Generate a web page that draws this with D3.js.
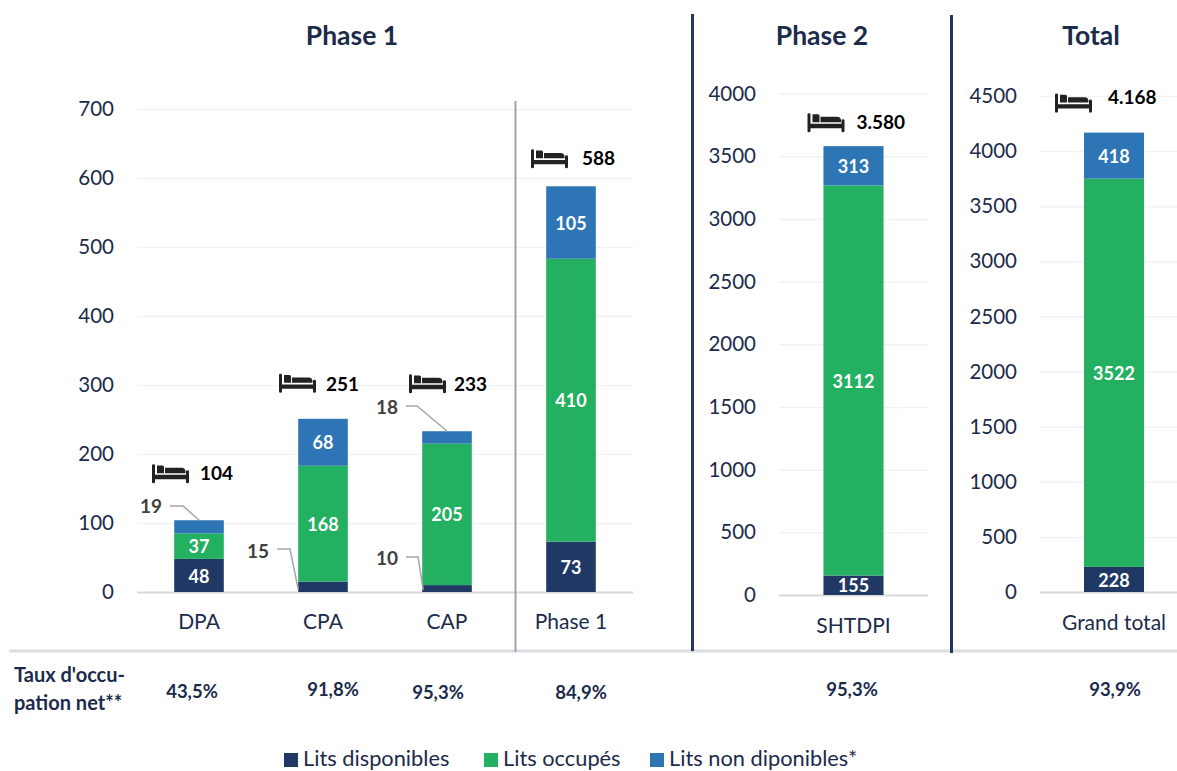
<!DOCTYPE html>
<html>
<head>
<meta charset="utf-8">
<script src="https://cdn.jsdelivr.net/npm/d3@7"></script>
<style>
  html, body { margin: 0; padding: 0; background: #fff; }
  text { font-family: Lato, "Open Sans", sans-serif; }
</style>
</head>
<body>
<svg width="1177" height="771"></svg>
<script>
// values
var seriesNames = ["Lits disponibles", "Lits occupés", "Lits non diponibles*"];
var seriesKeys = ["dispo", "occupes", "nonDispo"];

var phase1Categories = ["DPA", "CPA", "CAP", "Phase 1"];
var phase1Dispo = [48, 15, 10, 73];
var phase1Occupes = [37, 168, 205, 410];
var phase1NonDispo = [19, 68, 18, 105];
var phase1Totals = ["104", "251", "233", "588"];
var phase1Ticks = [0, 100, 200, 300, 400, 500, 600, 700];

var phase2Categories = ["SHTDPI"];
var phase2Dispo = [155];
var phase2Occupes = [3112];
var phase2NonDispo = [313];
var phase2Totals = ["3.580"];
var phase2Ticks = [0, 500, 1000, 1500, 2000, 2500, 3000, 3500, 4000];

var totalCategories = ["Grand total"];
var totalDispo = [228];
var totalOccupes = [3522];
var totalNonDispo = [418];
var totalTotals = ["4.168"];
var totalTicks = [0, 500, 1000, 1500, 2000, 2500, 3000, 3500, 4000, 4500];

var occupationLabels = ["43,5%", "91,8%", "95,3%", "84,9%", "95,3%", "93,9%"];

var colors = d3.scaleOrdinal().domain(seriesKeys).range(["#1f3864", "#23b060", "#2e75b6"]);
var textDark = "#1c2b4a";

var svg = d3.select("svg");

// one panel = one stacked bar chart with its own y scale
function drawPanel(cfg) {
    var rows = cfg.categories.map(function(c, i) {
        return { cat: c, dispo: cfg.dispo[i], occupes: cfg.occupes[i], nonDispo: cfg.nonDispo[i], total: cfg.totals[i] };
    });

    var x = d3.scaleBand().domain(cfg.categories).range(cfg.xRange)
        .paddingInner(cfg.inner).paddingOuter(cfg.outer);
    var y = d3.scaleLinear().domain(cfg.yDomain).range(cfg.yRange);
    var g = svg.append("g");

    var yAxis = g.append("g")
        .attr("transform", "translate(" + cfg.xRange[0] + ",0)")
        .call(d3.axisLeft(y).tickValues(cfg.ticks).tickFormat(d3.format("d"))
            .tickSize(-(cfg.xRange[1] - cfg.xRange[0])).tickPadding(23));
    yAxis.select(".domain").remove();
    yAxis.selectAll("line").attr("stroke", function(d) { return d === 0 ? "#d9d9d9" : "#f2f2f2"; })
        .attr("stroke-width", function(d) { return d === 0 ? 2 : 1.5; });
    yAxis.selectAll("text").attr("font-size", 20.5).attr("fill", textDark).style("font-family", "Lato");

    var stack = d3.stack().keys(seriesKeys)(rows);

    g.selectAll(".layer")
        .data(stack)
        .enter().append("g")
        .attr("class", "layer")
        .attr("fill", function(d) { return colors(d.key); })
        .selectAll("rect")
        .data(function(d) { return d; })
        .enter().append("rect")
        .attr("x", function(d) { return x(d.data.cat); })
        .attr("y", function(d) { return y(d[1]); })
        .attr("width", x.bandwidth())
        .attr("height", function(d) { return y(d[0]) - y(d[1]); });

    // value labels, the small segments are labelled outside through a leader
    stack.forEach(function(layer) {
        g.append("g").selectAll("text")
            .data(layer)
            .enter().append("text")
            .filter(function(d) { return y(d[0]) - y(d[1]) >= 15; })
            .attr("x", function(d) { return x(d.data.cat) + x.bandwidth() / 2; })
            .attr("y", function(d) { return (y(d[0]) + y(d[1])) / 2 + 0.6; })
            .attr("dy", "0.36em")
            .attr("text-anchor", "middle")
            .attr("font-size", 18)
            .attr("font-weight", 700)
            .attr("fill", "#fff")
            .text(function(d) { return d[1] - d[0]; });
    });

    var xAxis = g.append("g")
        .attr("transform", "translate(0," + y(0) + ")")
        .call(d3.axisBottom(x).tickSize(0).tickPadding(cfg.catPad));
    xAxis.select(".domain").remove();
    xAxis.selectAll("text").attr("font-size", 21).attr("fill", textDark).style("font-family", "Lato");

    // bed icon + total above each bar
    rows.forEach(function(r, i) {
        var cx = x(r.cat) + x.bandwidth() / 2;
        var top = y(r.dispo + r.occupes + r.nonDispo);
        var p = cfg.bedPlace[i];
        drawBed(g, cx + p.bedDx, top + p.bedDy);
        g.append("text")
            .attr("x", cx + p.labelDx)
            .attr("y", top + p.labelDy)
            .attr("dy", "0.36em")
            .attr("font-size", 19)
            .attr("font-weight", 700)
            .attr("fill", "#000")
            .text(r.total);
    });

    return { x: x, y: y, g: g };
}

function drawBed(g, left, top) {
    g.append("path")
        .attr("transform", "translate(" + left + "," + top + ")")
        .attr("fill", "#222")
        .attr("d", "M0,1.2 a1.5,1.2 0 0 1 3,0 V10.6 H34 V7.2 a1.5,1.2 0 0 1 3,0 V17.8 a1.5,1.2 0 0 1 -3,0 V15 H3 V17.8 a1.5,1.2 0 0 1 -3,0 Z" +
            "M5,1.2 h5.5 a1.5,1.5 0 0 1 1.5,1.5 V9 H5 Z" +
            "M13,3.6 H29.5 a4,4 0 0 1 4,4 V9 H13 Z");
}

var p1 = drawPanel({
    categories: phase1Categories, dispo: phase1Dispo, occupes: phase1Occupes, nonDispo: phase1NonDispo, totals: phase1Totals,
    ticks: phase1Ticks, xRange: [137, 633], inner: 0.6, outer: 0.3, yDomain: [0, 700], yRange: [592, 109], catPad: 22,
    bedPlace: [
        { bedDx: -47, bedDy: -56, labelDx: 1, labelDy: -47 },
        { bedDx: -44, bedDy: -45, labelDx: 3, labelDy: -35 },
        { bedDx: -38, bedDy: -57, labelDx: 7, labelDy: -47 },
        { bedDx: -40, bedDy: -37, labelDx: 11, labelDy: -28 }
    ]
});

drawPanel({
    categories: phase2Categories, dispo: phase2Dispo, occupes: phase2Occupes, nonDispo: phase2NonDispo, totals: phase2Totals,
    ticks: phase2Ticks, xRange: [779, 928], inner: 0, outer: 0.74, yDomain: [0, 4000], yRange: [595, 93.5], catPad: 23,
    bedPlace: [{ bedDx: -46, bedDy: -33, labelDx: 3, labelDy: -24 }]
});

drawPanel({
    categories: totalCategories, dispo: totalDispo, occupes: totalOccupes, nonDispo: totalNonDispo, totals: totalTotals,
    ticks: totalTicks, xRange: [1040, 1188], inner: 0, outer: 0.733, yDomain: [0, 4500], yRange: [592, 96], catPad: 23,
    bedPlace: [{ bedDx: -59, bedDy: -39, labelDx: -6, labelDy: -35 }]
});

// leaders for the small segments of phase 1
var leaders = [
    { text: "19", tx: 151, ty: 506, pts: [[170, 506], [183, 506]], cat: "DPA", endDx: 25, value: 104 },
    { text: "15", tx: 258, ty: 551, pts: [[277, 549], [290, 549]], cat: "CPA", endDx: 0, value: 4 },
    { text: "10", tx: 387, ty: 558, pts: [[406, 557], [418, 557]], cat: "CAP", endDx: 1, value: 3 },
    { text: "18", tx: 387, ty: 407, pts: [[406, 406], [417, 406]], cat: "CAP", endDx: 25, value: 233 }
];
leaders.forEach(function(l) {
    var end = [p1.x(l.cat) + l.endDx, p1.y(l.value)];
    p1.g.append("path")
        .attr("d", d3.line()(l.pts.concat([end])))
        .attr("fill", "none")
        .attr("stroke", "#a6a6a6")
        .attr("stroke-width", 1.5);
    p1.g.append("text")
        .attr("x", l.tx)
        .attr("y", l.ty)
        .attr("dy", "0.36em")
        .attr("text-anchor", "middle")
        .attr("font-size", 19)
        .attr("font-weight", 700)
        .attr("fill", "#404040")
        .text(l.text);
});

// titles
[["Phase 1", 352], ["Phase 2", 822], ["Total", 1091]].forEach(function(t) {
    svg.append("text")
        .attr("x", t[1])
        .attr("y", 45)
        .attr("text-anchor", "middle")
        .attr("font-size", 26.5)
        .attr("font-weight", 700)
        .attr("fill", textDark)
        .text(t[0]);
});

// separators
svg.append("line").attr("x1", 9).attr("x2", 1177).attr("y1", 651).attr("y2", 651)
    .attr("stroke", "#dcdce0").attr("stroke-width", 3);
svg.append("line").attr("x1", 515.5).attr("x2", 515.5).attr("y1", 101).attr("y2", 652)
    .attr("stroke", "#9aa3b5").attr("stroke-width", 2);
svg.append("line").attr("x1", 692.5).attr("x2", 692.5).attr("y1", 14).attr("y2", 651)
    .attr("stroke", "#1f3864").attr("stroke-width", 3);
svg.append("line").attr("x1", 951.5).attr("x2", 951.5).attr("y1", 15).attr("y2", 653)
    .attr("stroke", "#1f3864").attr("stroke-width", 3);

// occupation row
["Taux d'occu-", "pation net**"].forEach(function(s, i) {
    svg.append("text")
        .attr("x", 14)
        .attr("y", 682 + i * 28)
        .attr("font-size", 20)
        .attr("font-weight", 700)
        .attr("fill", textDark)
        .text(s);
});
var occX = [192, 333, 438, 581, 852, 1115];
var occY = [691, 689, 692, 692, 689, 689];
occupationLabels.forEach(function(s, i) {
    svg.append("text")
        .attr("x", occX[i])
        .attr("y", occY[i])
        .attr("dy", "0.36em")
        .attr("text-anchor", "middle")
        .attr("font-size", 18.5)
        .attr("font-weight", 700)
        .attr("fill", textDark)
        .text(s);
});

// legend
var legendX = [284, 484, 650];
seriesNames.forEach(function(name, i) {
    svg.append("rect")
        .attr("x", legendX[i])
        .attr("y", 753)
        .attr("width", 14)
        .attr("height", 14)
        .attr("fill", colors(seriesKeys[i]));
    svg.append("text")
        .attr("x", legendX[i] + 19)
        .attr("y", 758)
        .attr("dy", "0.36em")
        .attr("font-size", 21.8)
        .attr("fill", textDark)
        .text(name);
});
</script>
</body>
</html>
